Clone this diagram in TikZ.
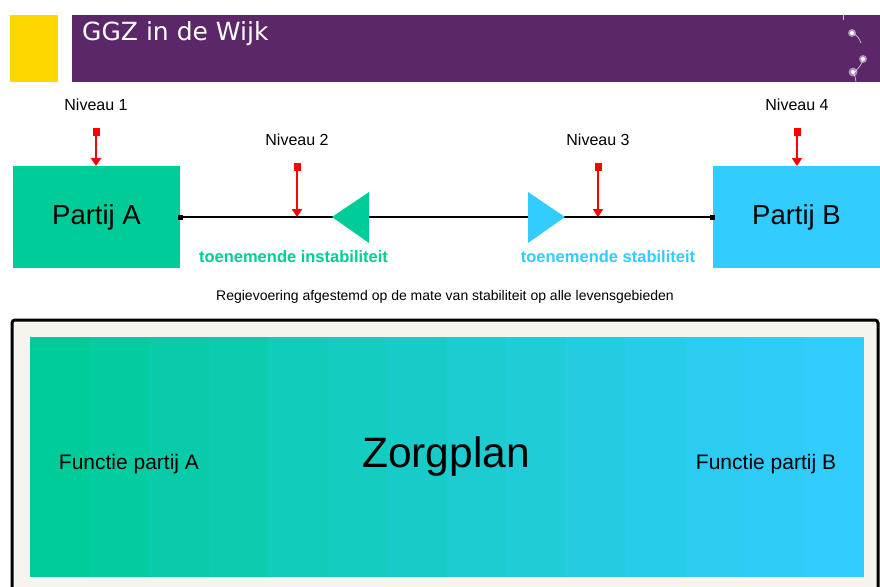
\documentclass[tikz,border=0pt]{standalone}
\usepackage{fontspec}
\setmainfont{Liberation Sans}
\newfontfamily\titlefont{DejaVu Sans}
\usetikzlibrary{arrows.meta}
\definecolor{gYellow}{HTML}{FFD700}
\definecolor{gPurple}{HTML}{5B2769}
\definecolor{gGreen}{HTML}{00CC99}
\definecolor{gBlue}{HTML}{33CCFF}
\definecolor{gPaper}{HTML}{F5F4EE}
\definecolor{gRed}{HTML}{FF0000}
\begin{document}
\begin{tikzpicture}[x=1pt,y=-1pt,
  lvl/.style={font=\fontsize{16}{18}\selectfont, inner sep=0pt},
  redsq/.style={fill=gRed, minimum width=7pt, minimum height=8pt, inner sep=0pt},
  redarrow/.style={draw=gRed, line width=1.8pt, -{Triangle[width=10pt,length=8pt]}},
  partij/.style={minimum width=167pt, minimum height=102pt, inner sep=0pt, font=\fontsize{27.5}{30}\selectfont},
  endsq/.style={fill=black, minimum size=5pt, inner sep=0pt},
  trend/.style={font=\bfseries\fontsize{16.5}{18}\selectfont, inner sep=0pt},
  func/.style={font=\fontsize{21}{24}\selectfont, inner sep=0pt}]
\useasboundingbox (0,0) rectangle (880,586);
\fill[white] (0,0) rectangle (880,586);
% header
\fill[gYellow] (10,15) rectangle (58,82);
\fill[gPurple] (72,15) rectangle (880,82);
\node[anchor=base west, text=white, font=\titlefont\fontsize{25}{28}\selectfont, inner sep=0pt] (title) at (82,41) {GGZ in de Wijk};
% dandelions
\begin{scope}[white]
  \draw[line width=0.5pt, opacity=0.7] (843,15) -- (843,20);
  \draw[line width=0.6pt, opacity=0.8] (852,33) .. controls (857,35) and (859,38) .. (861,43);
  \fill[opacity=0.5] (852,33) circle (4pt);
  \fill (852,33) circle (2pt);
  \draw[line width=0.6pt, opacity=0.8] (863,59) .. controls (862,65) and (858,68) .. (855,72);
  \fill[opacity=0.5] (863,59) circle (4pt);
  \fill (863,59) circle (2pt);
  \draw[line width=0.6pt, opacity=0.8] (853,72) .. controls (855,76) and (856,79) .. (856,82);
  \fill[opacity=0.5] (853,72) circle (4.5pt);
  \fill (853,72) circle (2pt);
\end{scope}
% parties
\node[partij, fill=gGreen] (A) at (96.5,217) {Partij A};
\node[partij, fill=gBlue] (B) at (796.5,217) {Partij B};
\node[endsq] (ea) at (A.east) {};
\node[endsq] (eb) at (B.west) {};
\draw[line width=1.3pt] (ea) -- (eb);
% triangles
\fill[gGreen] (332,217) -- (369,192) -- (369,243) -- cycle;
\fill[gBlue] (565,217) -- (528,192) -- (528,243) -- cycle;
% levels
\node[lvl] (n1) at (96,105) {Niveau 1};
\node[lvl] (n2) at (297,140) {Niveau 2};
\node[lvl] (n3) at (598,140) {Niveau 3};
\node[lvl] (n4) at (797,105) {Niveau 4};
\node[redsq] (s1) at (96,132) {};
\node[redsq] (s2) at (297,166.5) {};
\node[redsq] (s3) at (598,166.5) {};
\node[redsq] (s4) at (797,132) {};
\coordinate (t1) at (96,166);
\coordinate (t2) at (297,217);
\coordinate (t3) at (598,217);
\coordinate (t4) at (797,166);
\draw[redarrow] (s1.south) -- (t1);
\draw[redarrow] (s2.south) -- (t2);
\draw[redarrow] (s3.south) -- (t3);
\draw[redarrow] (s4.south) -- (t4);
% trend labels
\node[trend, text=gGreen] (ti) at (293.5,257) {toenemende instabiliteit};
\node[trend, text=gBlue] (ts) at (608,257) {toenemende stabiliteit};
\node[font=\fontsize{14}{16}\selectfont, inner sep=0pt] (regie) at (445,297) {Regievoering afgestemd op de mate van stabiliteit op alle levensgebieden};
% frame
\draw[line width=3pt, fill=gPaper, rounded corners=3pt] (12,320) rectangle (878,600);
\foreach \i in {0,...,13}{
  \pgfmathsetmacro{\p}{100-\i*100/13}
  \fill[gGreen!\p!gBlue] ({30+\i*833/14},337) rectangle ({30+(\i+1)*833/14+0.5},577);
}
\node[font=\fontsize{42.5}{48}\selectfont, inner sep=0pt] (zorg) at (446,457) {Zorgplan};
\node[func] (fa) at (129,464) {Functie partij A};
\node[func] (fb) at (766,464) {Functie partij B};
\end{tikzpicture}
\end{document}
